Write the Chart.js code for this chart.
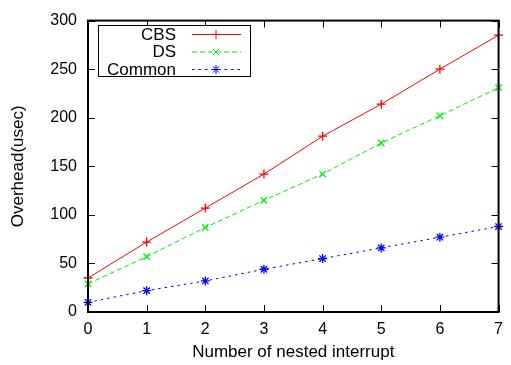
<!DOCTYPE html>
<html>
<head>
<meta charset="utf-8">
<script src="https://cdn.jsdelivr.net/npm/chart.js@4.4.0/dist/chart.umd.min.js"></script>
<style>
  html, body { margin: 0; padding: 0; background: #fff; }
  #wrap { width: 511px; height: 365px; }
</style>
</head>
<body>
<div id="wrap"><canvas id="myChart" width="511" height="365"></canvas></div>
<script>
const nested = [0, 1, 2, 3, 4, 5, 6, 7];
const cbs = [35, 72, 107, 142, 181, 214, 250, 285];
const ds = [29, 57, 87, 115, 142, 174, 202, 231];
const common = [10, 22, 32, 44, 55, 66, 77, 88];
const yTicks = [0, 50, 100, 150, 200, 250, 300];

const FONT = 'Liberation Sans, Arial, sans-serif';

function pts(ys) {
    return nested.map((x, i) => ({ x: x, y: ys[i] }));
}

// gnuplot style ticks: inward, mirrored on all four sides
const innerTicks = {
    id: 'innerTicks',
    afterDraw(chart) {
        const c = chart.ctx, a = chart.chartArea;
        const xs = chart.scales.x, ys = chart.scales.y;
        const len = 7;
        c.save();
        c.strokeStyle = '#000';
        c.lineWidth = 1;
        c.beginPath();
        nested.forEach(v => {
            const px = Math.round(xs.getPixelForValue(v)) + 0.5;
            c.moveTo(px, a.bottom); c.lineTo(px, a.bottom - len);
            c.moveTo(px, a.top); c.lineTo(px, a.top + len);
        });
        yTicks.forEach(v => {
            const py = Math.round(ys.getPixelForValue(v)) + 0.5;
            c.moveTo(a.left, py); c.lineTo(a.left + len, py);
            c.moveTo(a.right, py); c.lineTo(a.right - len, py);
        });
        c.stroke();
        c.lineWidth = 2;
        c.strokeRect(a.left, a.top, a.right - a.left, a.bottom - a.top);
        c.restore();
    }
};

// gnuplot style key: right-aligned text, sample line with point, boxed
const keyBox = {
    id: 'keyBox',
    afterDraw(chart) {
        const c = chart.ctx;
        const bx = 98, by = 25, bw = 152, bh = 51;
        c.save();
        c.fillStyle = '#fff';
        c.fillRect(bx, by, bw, bh);
        c.strokeStyle = '#000';
        c.lineWidth = 1;
        c.strokeRect(bx + 0.5, by + 0.5, bw, bh);
        c.font = '17px ' + FONT;
        c.textAlign = 'right';
        c.textBaseline = 'middle';
        chart.data.datasets.forEach((d, i) => {
            const y = by + 9 + i * 17.5;
            c.fillStyle = '#000';
            c.fillText(d.label, 176, y + 1);
            c.strokeStyle = d.borderColor;
            c.lineWidth = 1;
            c.setLineDash(d.borderDash || []);
            c.beginPath();
            c.moveTo(192, y + 0.5); c.lineTo(241, y + 0.5);
            c.stroke();
            c.setLineDash([]);
            Chart.helpers.drawPoint(c, {
                pointStyle: d.pointStyle, radius: d.pointRadius, borderWidth: 1.3
            }, 216, y + 0.5);
        });
        c.restore();
    }
};

const ctx = document.getElementById('myChart');

new Chart(ctx, {
    type: 'line',
    data: {
        datasets: [{
            label: 'CBS',
            data: pts(cbs),
            borderColor: '#ff0000',
            pointStyle: 'cross',
            pointRadius: 4.5,
        },
        {
            label: 'DS',
            data: pts(ds),
            borderColor: '#00f000',
            borderDash: [5, 3],
            pointStyle: 'crossRot',
            pointRadius: 4.5,
        },
        {
            label: 'Common',
            data: pts(common),
            borderColor: '#0000ff',
            borderDash: [2.5, 4],
            pointStyle: 'star',
            pointRadius: 4.5,
        }].map(d => Object.assign(d, {
            borderWidth: 1,
            pointBorderColor: d.borderColor,
            pointBackgroundColor: d.borderColor,
            pointBorderWidth: 1.3,
            fill: false,
            tension: 0,
            clip: false,
        }))
    },
    options: {
        responsive: false,
        animation: false,
        devicePixelRatio: 1,
        layout: { padding: { left: 8, right: 8, top: 17, bottom: 0 } },
        plugins: {
            legend: { display: false },
            tooltip: { enabled: false },
        },
        scales: {
            x: {
                type: 'linear',
                min: 0,
                max: 7,
                border: { display: false },
                grid: { display: false, drawTicks: false },
                ticks: {
                    stepSize: 1,
                    color: '#000',
                    padding: 8,
                    font: { family: FONT, size: 16 },
                },
                title: {
                    display: true,
                    text: 'Number of nested interrupt',
                    color: '#000',
                    font: { family: FONT, size: 17 },
                    padding: { top: 4, bottom: 2 },
                },
                afterFit(scale) { scale.height = 53; },
            },
            y: {
                min: 0,
                max: 300,
                border: { display: false },
                grid: { display: false, drawTicks: false },
                ticks: {
                    stepSize: 50,
                    color: '#000',
                    padding: 11,
                    font: { family: FONT, size: 16 },
                },
                title: {
                    display: true,
                    text: 'Overhead(usec)',
                    color: '#000',
                    font: { family: FONT, size: 17 },
                    padding: { top: 0, bottom: 4 },
                },
                afterFit(scale) { scale.width = 80; },
            }
        }
    },
    plugins: [innerTicks, keyBox]
});
</script>
</body>
</html>
